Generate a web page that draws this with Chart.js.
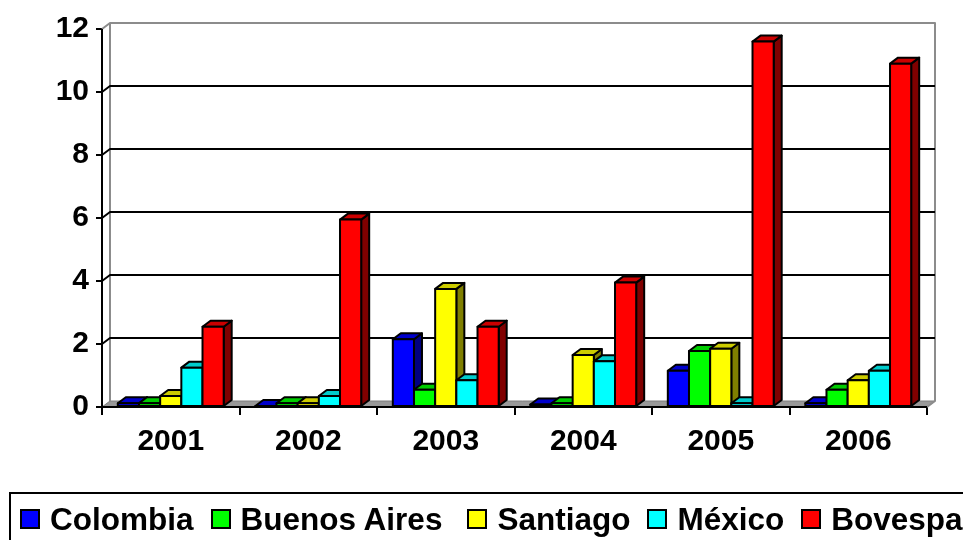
<!DOCTYPE html>
<html>
<head>
<meta charset="utf-8">
<script src="https://cdn.jsdelivr.net/npm/chart.js@4.4.1/dist/chart.umd.min.js"></script>
<style>
  html, body { margin: 0; padding: 0; background: #fff; overflow: hidden; }
  #wrap { position: relative; width: 963px; height: 540px; }
  #legend {
    position: absolute; left: 9px; top: 492px; width: 990px; height: 60px;
    border: 2px solid #000; box-sizing: border-box;
    display: flex; align-items: flex-start; padding: 6px 0 0 9px;
    font: bold 31.5px "Liberation Sans", Arial, sans-serif; white-space: nowrap;
  }
  .item { display: flex; align-items: center; margin-right: 17px; }
  .item:nth-child(2) { margin-right: 25px; }
  .box { width: 16px; height: 16px; border: 2px solid #000; margin-right: 10px; }
  .item span { position: relative; top: 1px; }
</style>
</head>
<body>
<div id="wrap">
  <canvas id="myChart" width="963" height="540"></canvas>
  <div id="legend"></div>
</div>
<script>
// data
const categories = ["2001", "2002", "2003", "2004", "2005", "2006"];
const seriesNames = ["Colombia", "Buenos Aires", "Santiago", "México", "Bovespa"];
const colombia = [0.12, 0.03, 2.15, 0.08, 1.15, 0.12];
const buenosAires = [0.12, 0.12, 0.55, 0.12, 1.78, 0.55];
const santiago = [0.35, 0.12, 3.75, 1.65, 1.85, 0.85];
const mexico = [1.25, 0.35, 0.85, 1.45, 0.12, 1.15];
const bovespa = [2.55, 5.95, 2.55, 3.95, 11.6, 10.9];
const seriesColors = ["#0000ff", "#00ff00", "#ffff00", "#00ffff", "#ff0000"];

const FONT = '"Liberation Sans", Arial, sans-serif';
const DX = 8, DY = -6; // profundidad 3D

function shade(hex, f) {
  const n = parseInt(hex.slice(1), 16);
  const r = Math.round(((n >> 16) & 255) * f);
  const g = Math.round(((n >> 8) & 255) * f);
  const b = Math.round((n & 255) * f);
  return `rgb(${r},${g},${b})`;
}

function poly(ctx, pts, fill, stroke) {
  ctx.beginPath();
  ctx.moveTo(pts[0][0], pts[0][1]);
  for (let k = 1; k < pts.length; k++) ctx.lineTo(pts[k][0], pts[k][1]);
  ctx.closePath();
  if (fill) { ctx.fillStyle = fill; ctx.fill(); }
  if (stroke) { ctx.strokeStyle = stroke; ctx.stroke(); }
}

// caja 3D: paredes, suelo y barras con caras laterales
const box3d = {
  id: "box3d",
  beforeDatasetsDraw(chart) {
    const { ctx, chartArea: a, scales: { y } } = chart;
    ctx.save();
    ctx.lineJoin = "round";

    // suelo
    ctx.lineWidth = 1;
    poly(ctx, [[a.left, a.bottom], [a.right, a.bottom], [a.right + DX, a.bottom + DY], [a.left + DX, a.bottom + DY]], "#999999", "#7f7f7f");

    // bordes grises de las paredes
    ctx.lineWidth = 2;
    ctx.strokeStyle = "#8c8c8c";
    ctx.beginPath();
    ctx.moveTo(a.left, a.top);
    ctx.lineTo(a.left + DX, a.top + DY);
    ctx.lineTo(a.right + DX, a.top + DY);
    ctx.lineTo(a.right + DX, a.bottom + DY);
    ctx.lineTo(a.right, a.bottom);
    ctx.moveTo(a.left + DX, a.top + DY);
    ctx.lineTo(a.left + DX, a.bottom + DY);
    ctx.stroke();

    // lineas de division en la pared del fondo
    ctx.strokeStyle = "#000";
    y.ticks.forEach(t => {
      if (t.value <= y.min || t.value >= y.max) return;
      const py = y.getPixelForValue(t.value);
      ctx.beginPath();
      ctx.moveTo(a.left, py);
      ctx.lineTo(a.left + DX, py + DY);
      ctx.lineTo(a.right + DX, py + DY);
      ctx.stroke();
    });

    // ejes frontales
    ctx.beginPath();
    ctx.moveTo(a.left, a.top);
    ctx.lineTo(a.left, a.bottom);
    ctx.lineTo(a.right, a.bottom);
    ctx.stroke();

    // barras, de izquierda a derecha
    ctx.lineWidth = 2;
    categories.forEach((c, j) => {
      chart.data.datasets.forEach((ds, i) => {
        const bar = chart.getDatasetMeta(i).data[j];
        const p = bar.getProps(["x", "y", "base", "width"], true);
        const l = p.x - p.width / 2, r = p.x + p.width / 2;
        const col = seriesColors[i];
        poly(ctx, [[r, p.y], [r + DX, p.y + DY], [r + DX, p.base + DY], [r, p.base]], shade(col, 0.5), "#000");
        poly(ctx, [[l, p.y], [r, p.y], [r + DX, p.y + DY], [l + DX, p.y + DY]], shade(col, 0.8), "#000");
        poly(ctx, [[l, p.y], [r, p.y], [r, p.base], [l, p.base]], col, "#000");
      });
    });
    ctx.restore();
    return false;
  }
};

const seriesValues = [colombia, buenosAires, santiago, mexico, bovespa];

const data = {
  labels: categories,
  datasets: seriesNames.map((name, i) => ({
    label: name,
    data: seriesValues[i],
    backgroundColor: seriesColors[i],
    borderColor: "#000",
    borderWidth: 2,
    categoryPercentage: 0.77,
    barPercentage: 1
  }))
};

const tickFont = { family: FONT, size: 30, weight: "bold" };

const config = {
  type: "bar",
  data: data,
  options: {
    responsive: false,
    animation: false,
    layout: { padding: { top: 29, right: 36, bottom: 0, left: 0 } },
    plugins: {
      legend: { display: false },
      tooltip: { enabled: false }
    },
    scales: {
      x: {
        grid: { drawOnChartArea: false, drawTicks: true, tickLength: 8, color: "#000", lineWidth: 2, offset: true },
        border: { display: false },
        ticks: { color: "#000", font: tickFont, padding: 9 },
        afterFit: s => { s.height = 133; }
      },
      y: {
        min: 0,
        max: 12,
        grid: { drawOnChartArea: false, tickLength: 6, color: "#000", lineWidth: 2 },
        border: { display: false },
        ticks: { stepSize: 2, color: "#000", font: tickFont, padding: 7 },
        afterFit: s => { s.width = 102; }
      }
    }
  },
  plugins: [box3d]
};

var ctx = document.getElementById("myChart").getContext("2d");
var myChart = new Chart(ctx, config);

// leyenda
const legend = document.getElementById("legend");
seriesNames.forEach((name, i) => {
  const item = document.createElement("div");
  item.className = "item";
  const box = document.createElement("div");
  box.className = "box";
  box.style.background = seriesColors[i];
  const label = document.createElement("span");
  label.textContent = name;
  item.appendChild(box);
  item.appendChild(label);
  legend.appendChild(item);
});
</script>
</body>
</html>
